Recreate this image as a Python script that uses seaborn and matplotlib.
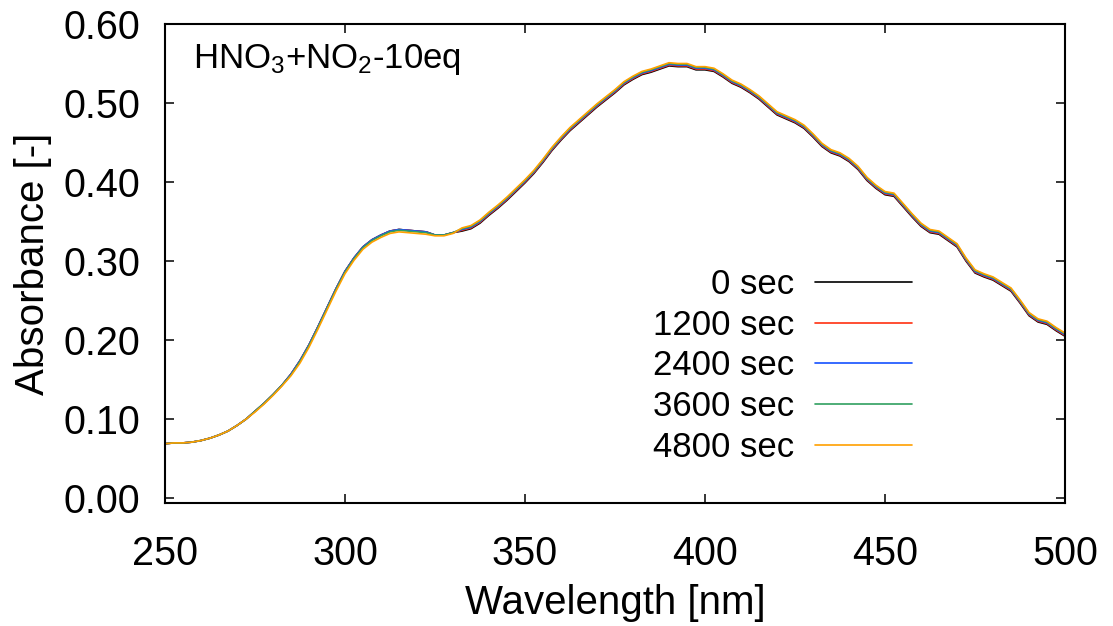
"""UV-Vis absorbance spectra of HNO3 + NO2 (10 eq) over time."""

import matplotlib
matplotlib.use("Agg")
import matplotlib.pyplot as plt
import numpy as np
import pandas as pd
import seaborn as sns

# wavelength grid [nm], 2.5 nm steps from 250 to 500
wavelength = np.arange(250.0, 500.1, 2.5)

times = ["0 sec", "1200 sec", "2400 sec", "3600 sec", "4800 sec"]
colors = ["#000000", "#ff3010", "#1450ff", "#30a060", "#ffa000"]

absorb_0 = [
    0.069, 0.070, 0.070, 0.071, 0.073, 0.076, 0.080, 0.085, 0.092, 0.100,
    0.110, 0.120, 0.131, 0.143, 0.157, 0.174, 0.194, 0.217, 0.241, 0.265,
    0.287, 0.304, 0.318, 0.327, 0.333, 0.338, 0.340, 0.339, 0.338, 0.337,
    0.333, 0.333, 0.336,
    0.338, 0.341, 0.348, 0.358, 0.367, 0.377, 0.388, 0.399, 0.411, 0.425,
    0.440, 0.453, 0.465, 0.475, 0.485, 0.495, 0.504, 0.513, 0.523, 0.530,
    0.536, 0.539, 0.543, 0.547, 0.546, 0.546, 0.542, 0.542, 0.540, 0.533,
    0.525, 0.520, 0.513, 0.505, 0.495, 0.485, 0.480, 0.475, 0.468, 0.457,
    0.445, 0.437, 0.433, 0.426, 0.416, 0.402, 0.392, 0.384, 0.382, 0.369,
    0.356, 0.344, 0.336, 0.334, 0.326, 0.318, 0.300, 0.285, 0.280, 0.276,
    0.269, 0.262, 0.247, 0.231, 0.223, 0.220, 0.212, 0.205,
]
absorb_1200 = [
    0.069, 0.070, 0.070, 0.071, 0.073, 0.076, 0.080, 0.085, 0.092, 0.100,
    0.110, 0.120, 0.131, 0.143, 0.157, 0.174, 0.194, 0.217, 0.241, 0.265,
    0.287, 0.304, 0.318, 0.327, 0.333, 0.338, 0.340, 0.339, 0.338, 0.337,
    0.333, 0.333, 0.336,
    0.339, 0.342, 0.349, 0.359, 0.368, 0.378, 0.389, 0.400, 0.412, 0.426,
    0.441, 0.454, 0.466, 0.476, 0.486, 0.496, 0.505, 0.514, 0.524, 0.531,
    0.537, 0.540, 0.544, 0.548, 0.547, 0.547, 0.543, 0.543, 0.541, 0.534,
    0.526, 0.521, 0.514, 0.506, 0.496, 0.486, 0.481, 0.476, 0.469, 0.458,
    0.446, 0.438, 0.434, 0.427, 0.417, 0.403, 0.393, 0.385, 0.383, 0.370,
    0.357, 0.345, 0.337, 0.335, 0.327, 0.319, 0.301, 0.286, 0.281, 0.277,
    0.270, 0.263, 0.248, 0.232, 0.224, 0.221, 0.213, 0.206,
]
absorb_2400 = [
    0.069, 0.070, 0.070, 0.071, 0.073, 0.076, 0.080, 0.085, 0.092, 0.100,
    0.110, 0.120, 0.131, 0.143, 0.157, 0.174, 0.194, 0.217, 0.241, 0.265,
    0.287, 0.304, 0.318, 0.327, 0.333, 0.338, 0.340, 0.339, 0.338, 0.337,
    0.333, 0.333, 0.336,
    0.340, 0.343, 0.350, 0.360, 0.369, 0.379, 0.390, 0.401, 0.413, 0.427,
    0.442, 0.455, 0.467, 0.477, 0.487, 0.497, 0.506, 0.515, 0.525, 0.532,
    0.538, 0.541, 0.545, 0.549, 0.548, 0.548, 0.544, 0.544, 0.542, 0.535,
    0.527, 0.522, 0.515, 0.507, 0.497, 0.487, 0.482, 0.477, 0.470, 0.459,
    0.447, 0.439, 0.435, 0.428, 0.418, 0.404, 0.394, 0.386, 0.384, 0.371,
    0.358, 0.346, 0.338, 0.336, 0.328, 0.320, 0.302, 0.287, 0.282, 0.278,
    0.271, 0.264, 0.249, 0.233, 0.225, 0.222, 0.214, 0.207,
]
absorb_3600 = [
    0.069, 0.070, 0.070, 0.071, 0.073, 0.076, 0.080, 0.085, 0.092, 0.100,
    0.110, 0.120, 0.131, 0.143, 0.156, 0.173, 0.193, 0.216, 0.240, 0.264,
    0.286, 0.303, 0.317, 0.326, 0.332, 0.337, 0.339, 0.338, 0.337, 0.336,
    0.333, 0.333, 0.336,
    0.341, 0.344, 0.351, 0.361, 0.370, 0.380, 0.391, 0.402, 0.414, 0.428,
    0.443, 0.456, 0.468, 0.478, 0.488, 0.498, 0.507, 0.516, 0.526, 0.533,
    0.539, 0.542, 0.546, 0.550, 0.549, 0.549, 0.545, 0.545, 0.543, 0.536,
    0.528, 0.523, 0.516, 0.508, 0.498, 0.488, 0.483, 0.478, 0.471, 0.460,
    0.448, 0.440, 0.436, 0.429, 0.419, 0.405, 0.395, 0.387, 0.385, 0.372,
    0.359, 0.347, 0.339, 0.337, 0.329, 0.321, 0.303, 0.288, 0.283, 0.279,
    0.272, 0.265, 0.250, 0.234, 0.226, 0.223, 0.215, 0.208,
]
absorb_4800 = [
    0.069, 0.070, 0.070, 0.071, 0.073, 0.076, 0.080, 0.085, 0.092, 0.100,
    0.109, 0.119, 0.130, 0.142, 0.155, 0.171, 0.191, 0.214, 0.238, 0.262,
    0.284, 0.301, 0.315, 0.324, 0.330, 0.335, 0.337, 0.336, 0.335, 0.334,
    0.332, 0.332, 0.335,
    0.342, 0.345, 0.352, 0.362, 0.371, 0.381, 0.392, 0.403, 0.415, 0.429,
    0.444, 0.457, 0.469, 0.479, 0.489, 0.499, 0.508, 0.517, 0.527, 0.534,
    0.540, 0.543, 0.547, 0.551, 0.550, 0.550, 0.546, 0.546, 0.544, 0.537,
    0.529, 0.524, 0.517, 0.509, 0.499, 0.489, 0.484, 0.479, 0.472, 0.461,
    0.449, 0.441, 0.437, 0.430, 0.420, 0.406, 0.396, 0.388, 0.386, 0.373,
    0.360, 0.348, 0.340, 0.338, 0.330, 0.322, 0.304, 0.289, 0.284, 0.280,
    0.273, 0.266, 0.251, 0.235, 0.227, 0.224, 0.216, 0.209,
]
series = [absorb_0, absorb_1200, absorb_2400, absorb_3600, absorb_4800]

sns.set_theme(style="ticks")
plt.rcParams["font.family"] = ["Liberation Sans", "DejaVu Sans"]
plt.rcParams["mathtext.fontset"] = "custom"
plt.rcParams["mathtext.rm"] = "Liberation Sans"
plt.rcParams["mathtext.it"] = "Liberation Sans"
plt.rcParams["text.color"] = "black"
plt.rcParams["axes.labelcolor"] = "black"

fig = plt.figure(figsize=(11.13, 6.26), dpi=100)
ax = fig.add_axes([0.1482, 0.1965, 0.8087, 0.7652])

for label, color, values in zip(times, colors, series):
    df = pd.DataFrame({"wavelength": wavelength, "absorbance": values})
    sns.lineplot(data=df, x="wavelength", y="absorbance", color=color,
                 linewidth=1.2, label=label, ax=ax)

ax.set_xlim(250, 500)
ax.set_ylim(-0.006, 0.60)
ax.set_xticks([250, 300, 350, 400, 450, 500])
ax.set_yticks([0.0, 0.1, 0.2, 0.3, 0.4, 0.5, 0.6])
ax.set_yticklabels([f"{v:.2f}" for v in ax.get_yticks()])
ax.tick_params(direction="in", length=6.5, width=1.1, top=True, right=True,
               labelsize=28.5, colors="black")
ax.tick_params(axis="y", pad=18)
ax.tick_params(axis="x", pad=23)
for spine in ax.spines.values():
    spine.set_linewidth(1.5)
    spine.set_color("black")

ax.set_xlabel("Wavelength [nm]", fontsize=29, labelpad=8)
ax.set_ylabel("Absorbance [-]", fontsize=29, labelpad=8)

ax.text(0.031, 0.925, r"HNO$_{\mathregular{3}}$+NO$_{\mathregular{2}}$-10eq",
        transform=ax.transAxes, fontsize=25, va="center", ha="left")

ax.legend(loc="lower right", bbox_to_anchor=(0.83, 0.082), frameon=False,
          markerfirst=False, fontsize=25, handlelength=2.8, handletextpad=0.6,
          labelspacing=0.22, borderpad=0, borderaxespad=0)

fig.savefig("out.png", dpi=100)
